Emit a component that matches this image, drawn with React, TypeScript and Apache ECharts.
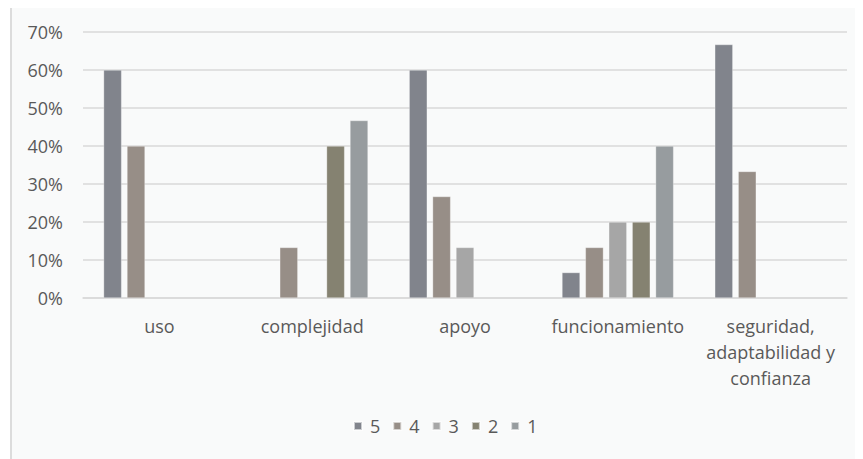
import React, { useEffect, useRef } from "react";
import * as echarts from "echarts";

const categories = ["uso", "complejidad", "apoyo", "funcionamiento", "seguridad,\nadaptabilidad y\nconfianza"];
const seriesNames = ["5", "4", "3", "2", "1"];
const values5 = [0.6, null, 0.6, 0.067, 0.667];
const values4 = [0.4, 0.133, 0.267, 0.133, 0.333];
const values3 = [null, null, 0.133, 0.2, null];
const values2 = [null, 0.4, null, 0.2, null];
const values1 = [null, 0.467, null, 0.4, null];
const yTicks = [0, 0.1, 0.2, 0.3, 0.4, 0.5, 0.6, 0.7];
const colors = ["#81848c", "#978e87", "#a6a6a6", "#858271", "#979c9f"];

const FONT = "'Open Sans', sans-serif";

export default function App() {
  const ref = useRef<HTMLDivElement>(null);
  useEffect(() => {
    document.documentElement.style.overflow = "hidden";
    const chart = echarts.init(ref.current!, null, { renderer: "svg" });
    const allValues = [values5, values4, values3, values2, values1];
    chart.setOption({
      animation: false,
      backgroundColor: "#f9fafa",
      textStyle: { fontFamily: FONT },
      grid: { left: 71, right: 16, top: 24, bottom: 161, containLabel: false },
      legend: {
        data: seriesNames,
        left: 336,
        top: 404,
        itemWidth: 8,
        itemHeight: 8,
        itemGap: 12,
        icon: "rect",
        textStyle: { fontSize: 18, color: "#595959", fontFamily: FONT, padding: [0, 0, 0, 3] },
      },
      xAxis: {
        type: "category",
        data: categories,
        axisTick: { show: false },
        axisLine: { lineStyle: { color: "#d9d9d9", width: 1.5 } },
        axisLabel: {
          interval: 0,
          margin: 15,
          fontSize: 18,
          lineHeight: 26,
          color: "#595959",
          fontFamily: FONT,
        },
      },
      yAxis: {
        type: "value",
        min: yTicks[0],
        max: yTicks[yTicks.length - 1],
        interval: 0.1,
        axisLine: { show: false },
        axisTick: { show: false },
        splitLine: { lineStyle: { color: "#d9d9d9", width: 1.5 } },
        axisLabel: {
          margin: 20,
          fontSize: 18,
          color: "#595959",
          fontFamily: FONT,
          formatter: (v: number) => Math.round(v * 100) + "%",
        },
      },
      series: seriesNames.map((name, i) => ({
        name,
        type: "bar",
        data: allValues[i],
        barWidth: 18,
        barGap: "30%",
        itemStyle: { color: colors[i], borderColor: "rgba(255,255,255,0.6)", borderWidth: 0.5 },
      })),
    });
    return () => chart.dispose();
  }, []);
  return (
    <div
      ref={ref}
      style={{
        marginLeft: 2,
        width: 851,
        height: 451,
        borderLeft: "2px solid #dcdcdc",
        background: "#f9fafa",
      }}
    />
  );
}
